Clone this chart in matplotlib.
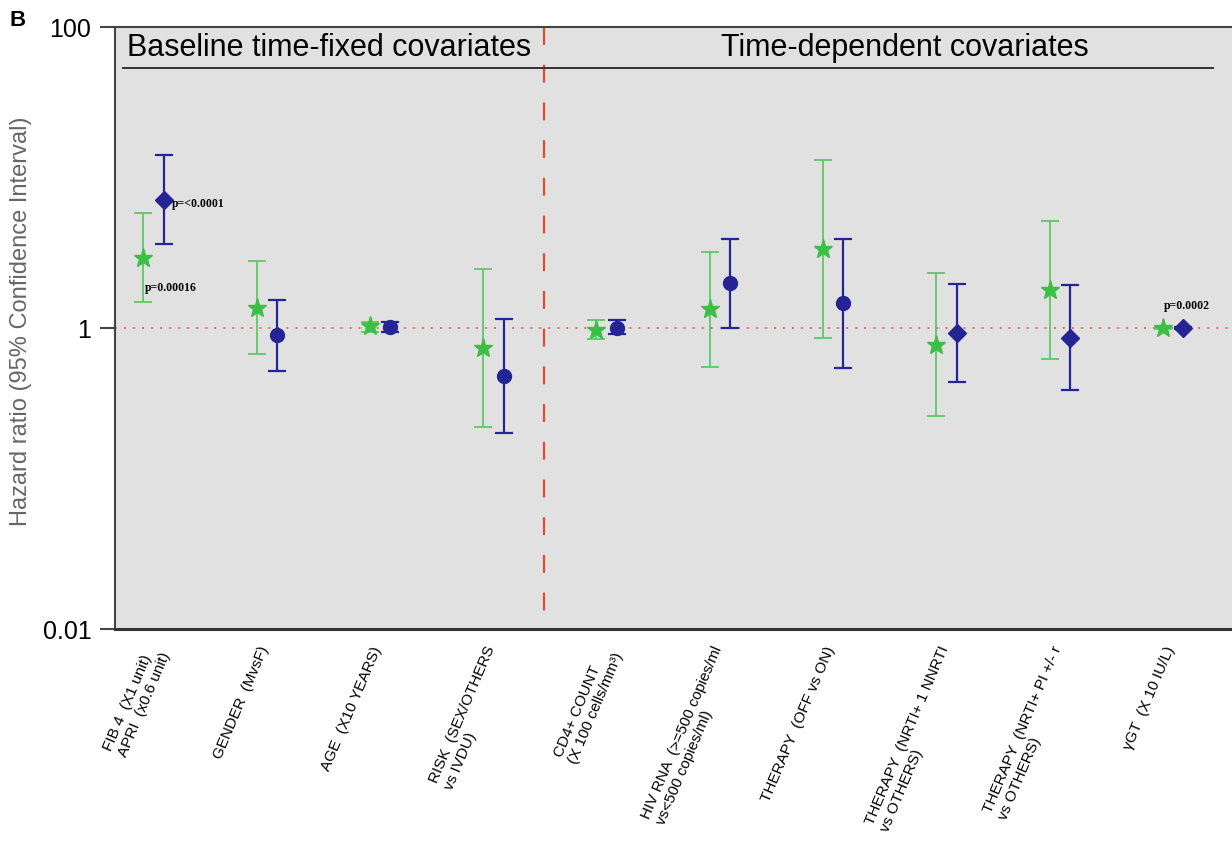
import numpy as np
import matplotlib.pyplot as plt
from matplotlib.transforms import ScaledTranslation

plt.rcParams['font.family'] = ['Liberation Sans', 'DejaVu Sans']

labels = [
    "FIB 4  (X1 unit)\nAPRI  (x0.6 unit)",
    "GENDER  (MvsF)",
    "AGE  (X10 YEARS)",
    "RISK  (SEX/OTHERS\nvs IVDU)",
    "CD4+ COUNT\n(X 100 cells/mm³)",
    "HIV RNA  (>=500 copies/ml\nvs<500 copies/ml)",
    "THERAPY  (OFF vs ON)",
    "THERAPY  (NRTI+ 1 NNRTI\nvs OTHERS)",
    "THERAPY  (NRTI+ PI +/- r\nvs OTHERS)",
    "γGT  (X 10 IU/L)",
]

# univariate (green stars)
hr_uni = [2.93, 1.36, 1.03, 0.74, 0.97, 1.34, 3.36, 0.77, 1.79, 1.0]
lo_uni = [1.49, 0.67, 0.94, 0.22, 0.84, 0.55, 0.86, 0.26, 0.62, 0.99]
hi_uni = [5.84, 2.80, 1.10, 2.47, 1.13, 3.21, 12.98, 2.33, 5.17, 1.01]

# multivariate (blue)
hr_multi = [7.14, 0.90, 1.02, 0.48, 1.0, 2.0, 1.47, 0.93, 0.86, 1.0]
lo_multi = [3.63, 0.52, 0.94, 0.20, 0.91, 1.0, 0.54, 0.44, 0.39, 0.99]
hi_multi = [14.2, 1.54, 1.10, 1.15, 1.13, 3.92, 3.92, 1.96, 1.93, 1.01]
multi_markers = ['D', 'o', 'o', 'o', 'o', 'o', 'o', 'D', 'D', 'D']

green = '#3cbf45'
green_line = '#5ec865'
blue = '#242494'

x = np.arange(1, len(labels) + 1)
off = 0.09

fig = plt.figure(figsize=(12.32, 8.44), dpi=100)
ax = fig.add_axes([0.0933, 0.2547, 0.9067, 0.7133])
ax.set_facecolor('#e1e1e1')

ax.set_yscale('log')
ax.set_ylim(0.01, 100)
ax.set_xlim(0.66, 10.52)
ax.set_yticks([0.01, 1, 100])
ax.set_yticklabels(['0.01', '1', '100'], fontsize=18)
ax.minorticks_off()
ax.tick_params(axis='y', length=11, width=1.5, color='#444444', pad=6)
ax.tick_params(axis='x', length=0, pad=11)

for s in ['left', 'top']:
    ax.spines[s].set_color('#444444')
    ax.spines[s].set_linewidth(1.5)
ax.spines['bottom'].set_color('#333333')
ax.spines['bottom'].set_linewidth(2.2)
ax.spines['right'].set_visible(False)

trans = ax.get_xaxis_transform()
ax.axhline(1, color='#f05a3a', linestyle=(0, (1, 4)), linewidth=1.3, zorder=1)
# divider drawn top-down so the dash pattern starts at the top edge
ax.plot([4.45, 4.45], [1, 0], transform=trans, color='#e8442c',
        linestyle=(0, (8.6, 9.5)), linewidth=1.5, zorder=1)

# green: univariate
yerr_u = [np.array(hr_uni) - np.array(lo_uni), np.array(hi_uni) - np.array(hr_uni)]
ax.errorbar(x - off, hr_uni, yerr=yerr_u, fmt='none', ecolor=green_line,
            elinewidth=1.3, capsize=6.5, capthick=1.3, zorder=2)
ax.plot(x - off, hr_uni, linestyle='none', marker='*', markersize=14,
        color=green, zorder=3)

# blue: multivariate
yerr_m = [np.array(hr_multi) - np.array(lo_multi), np.array(hi_multi) - np.array(hr_multi)]
ax.errorbar(x + off, hr_multi, yerr=yerr_m, fmt='none', ecolor=blue,
            elinewidth=1.6, capsize=6.5, capthick=1.6, zorder=2)
for xi, yi, m in zip(x + off, hr_multi, multi_markers):
    ax.plot(xi, yi, linestyle='none', marker=m, markersize=10 if m == 'o' else 9,
            color=blue, zorder=3)

ax.set_xticks(x)
ax.set_xticklabels(labels, rotation=67, ha='right', va='top',
                   rotation_mode='anchor', fontsize=11, multialignment='left')
shift = ScaledTranslation(-6 / 72, 0, fig.dpi_scale_trans)
for lab in ax.get_xticklabels():
    lab.set_transform(lab.get_transform() + shift)

fig.text(21 / 1232, 1 - 321 / 844, 'Hazard ratio (95% Confidence Interval)',
         rotation=90, ha='center', va='center', fontsize=17, color='#666666')

# section headers
ax.text(2.55, 0.965, 'Baseline time-fixed covariates', transform=trans,
        ha='center', va='center', fontsize=22)
ax.text(7.63, 0.965, 'Time-dependent covariates', transform=trans,
        ha='center', va='center', fontsize=22)
ax.plot([0.73, 10.35], [0.932, 0.932], transform=trans, color='#333333', lw=1.4)

# p-values
pfont = dict(family=['Liberation Serif', 'DejaVu Serif'], fontsize=8.5,
             fontweight='bold')
ax.annotate('p=<0.0001', (1 + off, hr_multi[0]), xytext=(6, -3),
            textcoords='offset points', va='center', **pfont)
ax.annotate('p=0.00016', (1 - off, lo_uni[0]), xytext=(1, 10),
            textcoords='offset points', va='center', **pfont)
ax.annotate('p=0.0002', (10 + off, hr_multi[9]), xytext=(-14, 16),
            textcoords='offset points', va='center', **pfont)

fig.text(0.008, 0.976, 'B', fontsize=16, fontweight='bold', va='center')

fig.savefig('out.png', dpi=100)
